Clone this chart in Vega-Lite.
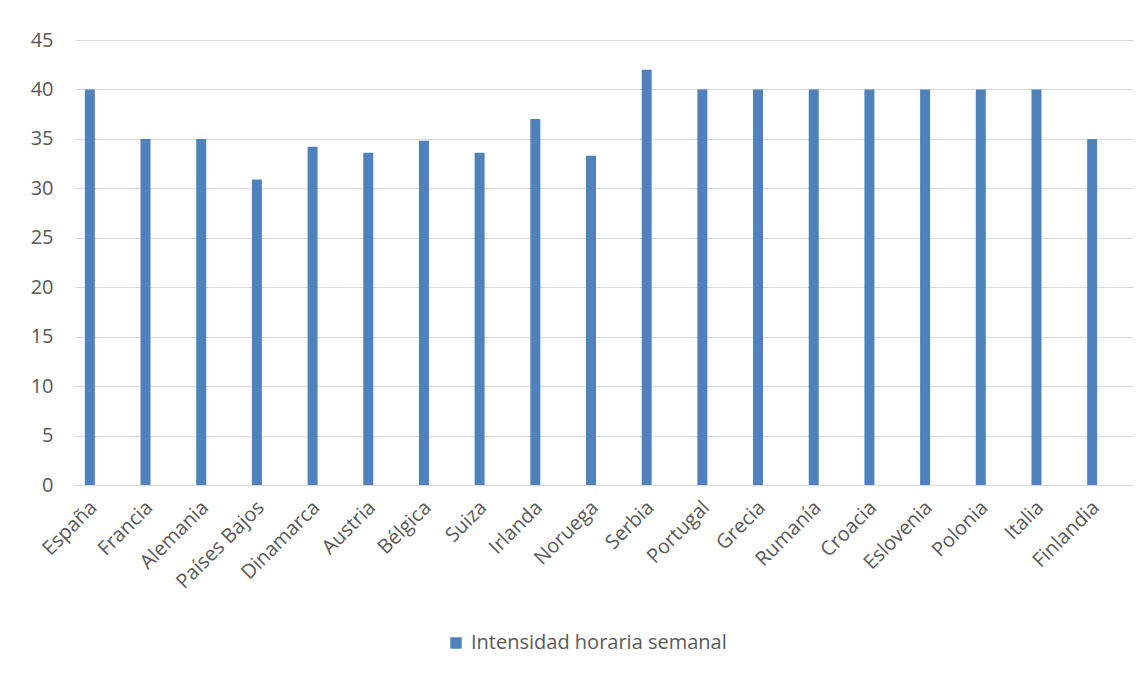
{
  "$schema": "https://vega.github.io/schema/vega-lite/v6.json",
  "autosize": "none",
  "width": 1058,
  "height": 445,
  "padding": {"left": 75, "top": 40, "right": 13, "bottom": 189},
  "background": "white",
  "config": {
    "view": {"stroke": null},
    "font": "Open Sans"
  },
  "data": {
    "values": [
      {"pais": "España", "horas": 40, "serie": "Intensidad horaria semanal"},
      {"pais": "Francia", "horas": 35, "serie": "Intensidad horaria semanal"},
      {"pais": "Alemania", "horas": 35, "serie": "Intensidad horaria semanal"},
      {"pais": "Países Bajos", "horas": 30.9, "serie": "Intensidad horaria semanal"},
      {"pais": "Dinamarca", "horas": 34.2, "serie": "Intensidad horaria semanal"},
      {"pais": "Austria", "horas": 33.6, "serie": "Intensidad horaria semanal"},
      {"pais": "Bélgica", "horas": 34.8, "serie": "Intensidad horaria semanal"},
      {"pais": "Suiza", "horas": 33.6, "serie": "Intensidad horaria semanal"},
      {"pais": "Irlanda", "horas": 37, "serie": "Intensidad horaria semanal"},
      {"pais": "Noruega", "horas": 33.3, "serie": "Intensidad horaria semanal"},
      {"pais": "Serbia", "horas": 42, "serie": "Intensidad horaria semanal"},
      {"pais": "Portugal", "horas": 40, "serie": "Intensidad horaria semanal"},
      {"pais": "Grecia", "horas": 40, "serie": "Intensidad horaria semanal"},
      {"pais": "Rumanía", "horas": 40, "serie": "Intensidad horaria semanal"},
      {"pais": "Croacia", "horas": 40, "serie": "Intensidad horaria semanal"},
      {"pais": "Eslovenia", "horas": 40, "serie": "Intensidad horaria semanal"},
      {"pais": "Polonia", "horas": 40, "serie": "Intensidad horaria semanal"},
      {"pais": "Italia", "horas": 40, "serie": "Intensidad horaria semanal"},
      {"pais": "Finlandia", "horas": 35, "serie": "Intensidad horaria semanal"}
    ]
  },
  "mark": {"type": "bar", "size": 10, "xOffset": -13},
  "encoding": {
    "x": {
      "field": "pais",
      "type": "nominal",
      "sort": null,
      "title": null,
      "scale": {"paddingInner": 0, "paddingOuter": 0},
      "axis": {
        "labelAngle": -45,
        "labelFontSize": 20,
        "labelColor": "#595959",
        "labelPadding": 12,
        "labelOffset": -16,
        "ticks": false,
        "domain": false,
        "grid": false
      }
    },
    "y": {
      "field": "horas",
      "type": "quantitative",
      "title": null,
      "scale": {"domain": [0, 45], "nice": false},
      "axis": {
        "values": [0, 5, 10, 15, 20, 25, 30, 35, 40, 45],
        "labelFontSize": 20,
        "labelColor": "#595959",
        "labelPadding": 22,
        "ticks": false,
        "domain": false,
        "grid": true,
        "gridColor": "#D9D9D9",
        "gridWidth": 1
      }
    },
    "color": {
      "field": "serie",
      "type": "nominal",
      "scale": {"range": ["#4F81BD"]},
      "legend": {
        "title": null,
        "orient": "none",
        "legendX": 371,
        "legendY": 593,
        "symbolType": "square",
        "symbolSize": 130,
        "labelFontSize": 20,
        "labelLimit": 500,
        "labelColor": "#595959",
        "labelOffset": 5
      }
    }
  }
}
